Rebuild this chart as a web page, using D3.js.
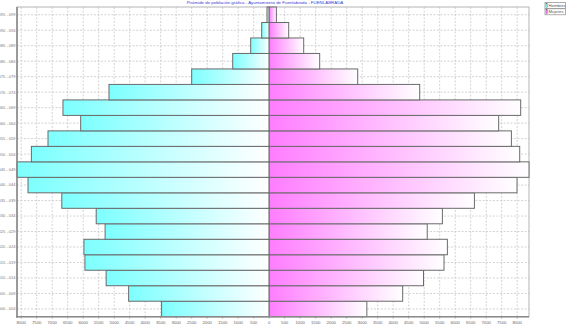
<!DOCTYPE html>
<html>
<head>
<meta charset="utf-8">
<script src="https://cdn.jsdelivr.net/npm/d3@7/dist/d3.min.js"></script>
<style>
  body { margin: 0; background: #fff; }
  svg { display: block; }
  text { font-family: "Liberation Sans", Arial, sans-serif; }
</style>
</head>
<body>
<svg></svg>
<script>
// Grupos de edad, de abajo (jóvenes) a arriba (mayores)
const ageGroups = ["000 - 004", "005 - 009", "010 - 014", "015 - 019", "020 - 024",
  "025 - 029", "030 - 034", "035 - 039", "040 - 044", "045 - 049",
  "050 - 054", "055 - 059", "060 - 064", "065 - 069", "070 - 074",
  "075 - 079", "080 - 084", "085 - 089", "090 - 094", "095 - 099"];

const hombres = [3471, 4534, 5260, 5944, 5976, 5293, 5580, 6690, 7780, 8135,
  7671, 7135, 6081, 6652, 5168, 2500, 1177, 597, 242, 71];

const mujeres = [3150, 4306, 4978, 5640, 5748, 5098, 5587, 6620, 7994, 8381,
  8081, 7813, 7403, 8113, 4855, 2855, 1629, 1113, 629, 232];

const xTicks = d3.range(-8000, 8001, 500);
const legendLabels = ["Hombres", "Mujeres"];
const title = "Pirámide de población gráfica - Ayuntamiento de Fuenlabrada - FUENLABRADA";

const width = 567;
const height = 325;
const plot = { left: 17, right: 529, top: 7, bottom: 316.7 };

const svg = d3.select("svg")
    .attr("width", width)
    .attr("height", height);

// Escalas: el dominio va del máximo de hombres al máximo de mujeres
const x = d3.scaleLinear()
    .domain([-d3.max(hombres), d3.max(mujeres)])
    .range([plot.left, plot.right]);

const y = d3.scaleBand()
    .domain(ageGroups.slice().reverse())
    .range([plot.top, plot.bottom]);

// Degradados por barra
const defs = svg.append("defs");
const gH = defs.append("linearGradient").attr("id", "gradH");
gH.append("stop").attr("offset", 0).attr("stop-color", "#7dffff");
gH.append("stop").attr("offset", 1).attr("stop-color", "#ffffff");
const gM = defs.append("linearGradient").attr("id", "gradM");
gM.append("stop").attr("offset", 0).attr("stop-color", "#ff7dff");
gM.append("stop").attr("offset", 1).attr("stop-color", "#ffffff");

// Rejilla
const grid = svg.append("g")
    .attr("stroke", "#c8c8c8")
    .attr("stroke-width", 0.8)
    .attr("stroke-dasharray", "2,1.5");

grid.selectAll("line.v")
    .data(xTicks.filter(t => t > x.domain()[0] && t < x.domain()[1] && t !== 0))
    .enter().append("line")
    .attr("x1", d => x(d)).attr("x2", d => x(d))
    .attr("y1", plot.top).attr("y2", plot.bottom);

grid.selectAll("line.h")
    .data(ageGroups)
    .enter().append("line")
    .attr("x1", plot.left).attr("x2", plot.right)
    .attr("y1", d => y(d) + y.bandwidth() / 2)
    .attr("y2", d => y(d) + y.bandwidth() / 2);

// Marco
svg.append("rect")
    .attr("x", plot.left).attr("y", plot.top)
    .attr("width", plot.right - plot.left)
    .attr("height", plot.bottom - plot.top)
    .attr("fill", "none")
    .attr("stroke", "#b4b4b4");

// Barras
const bars = svg.append("g")
    .attr("stroke", "#6a6a6a")
    .attr("stroke-width", 1);

bars.selectAll("rect.h")
    .data(ageGroups)
    .enter().append("rect")
    .attr("x", (d, i) => x(-hombres[i]))
    .attr("y", d => y(d))
    .attr("width", (d, i) => x(0) - x(-hombres[i]))
    .attr("height", y.bandwidth())
    .attr("fill", "url(#gradH)");

bars.selectAll("rect.m")
    .data(ageGroups)
    .enter().append("rect")
    .attr("x", x(0))
    .attr("y", d => y(d))
    .attr("width", (d, i) => x(mujeres[i]) - x(0))
    .attr("height", y.bandwidth())
    .attr("fill", "url(#gradM)");

// Ejes izquierdo e inferior
svg.append("line")
    .attr("x1", plot.left).attr("x2", plot.left)
    .attr("y1", plot.top).attr("y2", plot.bottom + 1)
    .attr("stroke", "#8a8a8a").attr("stroke-width", 1.6);
svg.append("line")
    .attr("x1", plot.left - 1).attr("x2", plot.right)
    .attr("y1", plot.bottom).attr("y2", plot.bottom)
    .attr("stroke", "#8a8a8a").attr("stroke-width", 1.6);

// Ticks y etiquetas del eje X
const xAxis = svg.append("g");
xAxis.selectAll("line")
    .data(xTicks)
    .enter().append("line")
    .attr("x1", d => x(d)).attr("x2", d => x(d))
    .attr("y1", plot.bottom).attr("y2", plot.bottom + 2)
    .attr("stroke", "#8a8a8a").attr("stroke-width", 0.6);
xAxis.selectAll("text")
    .data(xTicks)
    .enter().append("text")
    .attr("x", d => x(d))
    .attr("y", 323.5)
    .attr("text-anchor", "middle")
    .attr("font-size", 4.3)
    .attr("fill", "#666")
    .text(d => Math.abs(d));

// Etiquetas del eje Y
svg.append("g").selectAll("text")
    .data(ageGroups)
    .enter().append("text")
    .attr("x", plot.left - 1.5)
    .attr("y", d => y(d) + y.bandwidth() / 2 + 1.4)
    .attr("text-anchor", "end")
    .attr("font-size", 4)
    .attr("fill", "#777")
    .text(d => d);

// Título
svg.append("text")
    .attr("x", 265)
    .attr("y", 4.2)
    .attr("text-anchor", "middle")
    .attr("font-size", 4.4)
    .attr("fill", "#3c3cd2")
    .text(title);

// Leyenda
const legend = svg.append("g").attr("transform", "translate(545,2.5)");
const legendFills = ["#7dffff", "#ff7dff"];
legendLabels.forEach((label, i) => {
  const g = legend.append("g").attr("transform", `translate(0,${i * 6.3})`);
  g.append("rect")
      .attr("width", 20.5).attr("height", 6)
      .attr("fill", "#fff").attr("stroke", "#8a8a8a").attr("stroke-width", 0.7);
  g.append("rect")
      .attr("x", 1).attr("y", 1)
      .attr("width", 1.6).attr("height", 4)
      .attr("fill", legendFills[i]).attr("stroke", "#555").attr("stroke-width", 0.3);
  g.append("text")
      .attr("x", 3.6).attr("y", 4.4)
      .attr("font-size", 4.2)
      .attr("fill", "#555")
      .text(label);
});
</script>
</body>
</html>
